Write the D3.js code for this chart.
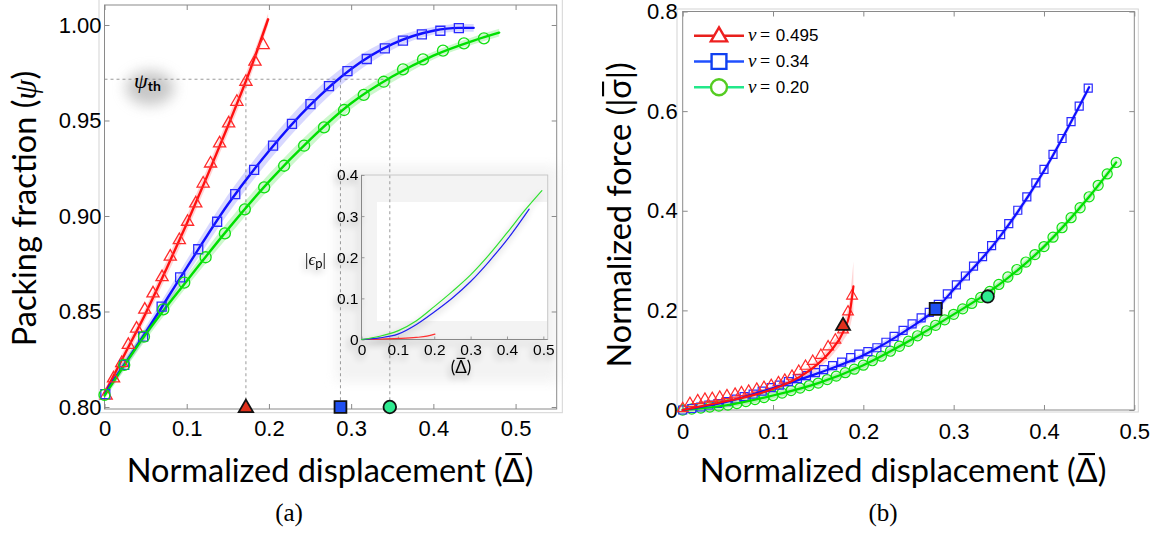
<!DOCTYPE html>
<html><head><meta charset="utf-8">
<script src="https://cdn.jsdelivr.net/npm/d3@7"></script>
<style>body{margin:0;background:#fff}svg{display:block}</style>
</head><body>
<script>
// ---------- panel (a): packing fraction vs normalized displacement ----------
const nuLabels = ['0.495', '0.34', '0.20'];

const redA_d   = [0.002,0.011,0.021,0.029,0.039,0.049,0.059,0.070,0.080,0.091,0.101,0.111,0.120,0.129,0.140,0.151,0.161,0.172,0.183,0.193];
const redA_psi = [0.806,0.815,0.823,0.8325,0.841,0.851,0.8595,0.868,0.8787,0.8874,0.897,0.9066,0.917,0.9275,0.938,0.9485,0.9598,0.9703,0.9808,0.9895];
const blueA_d   = [0.001,0.024,0.047,0.0695,0.092,0.114,0.137,0.159,0.182,0.205,0.228,0.2505,0.273,0.2955,0.319,0.341,0.363,0.386,0.4085,0.431];
const blueA_psi = [0.8067,0.822,0.8368,0.8525,0.8679,0.8826,0.897,0.9114,0.9241,0.9368,0.9482,0.9586,0.968,0.9759,0.9822,0.9878,0.9918,0.9951,0.997,0.9984];
const greenA_d   = [0,0.024,0.048,0.0715,0.097,0.123,0.1464,0.1707,0.1942,0.2185,0.2428,0.267,0.2914,0.3153,0.3396,0.3631,0.3874,0.4117,0.4372,0.4615];
const greenA_psi = [0.8063,0.822,0.8368,0.8511,0.8651,0.8784,0.8909,0.9035,0.915,0.9263,0.9368,0.9464,0.9555,0.9634,0.9703,0.9768,0.982,0.9866,0.9904,0.993];

// fitted curves and their band half-widths
const redFitA_d   = [0,0.025,0.05,0.075,0.1,0.125,0.15,0.175,0.199];
const redFitA_psi = [0.807,0.828,0.849,0.872,0.896,0.921,0.947,0.974,1.003];
const redFitA_w   = [0.002,0.003,0.003,0.004,0.004,0.004,0.004,0.004,0.003];
const blueFitA_d   = [0,0.05,0.1,0.15,0.2,0.25,0.3,0.35,0.4,0.43,0.449];
const blueFitA_psi = [0.807,0.839,0.873,0.906,0.934,0.958,0.977,0.990,0.997,0.9985,0.9985];
const blueFitA_w   = [0.002,0.003,0.004,0.005,0.005,0.005,0.004,0.003,0.002,0.002,0.002];
const greenFitA_d   = [0,0.05,0.1,0.15,0.2,0.25,0.3,0.35,0.4,0.45,0.48];
const greenFitA_psi = [0.806,0.838,0.866,0.893,0.918,0.940,0.959,0.973,0.984,0.992,0.996];
const greenFitA_w   = [0.002,0.003,0.003,0.004,0.004,0.004,0.003,0.003,0.002,0.002,0.002];

const psiTh = 0.9716;
const critA_d = [0.172, 0.287, 0.347];

// inset: plastic strain
const epsRed_d = [0,0.05,0.1,0.15,0.18,0.202];
const epsRed   = [0,0.001,0.0025,0.005,0.008,0.013];
const epsBlue_d = [0,0.05,0.1,0.15,0.2,0.25,0.3,0.35,0.4,0.461];
const epsBlue   = [0,0.004,0.013,0.036,0.067,0.101,0.141,0.189,0.242,0.317];
const epsGreen_d = [0,0.05,0.1,0.15,0.2,0.25,0.3,0.35,0.4,0.45,0.496];
const epsGreen   = [0,0.008,0.021,0.045,0.080,0.117,0.157,0.205,0.259,0.315,0.362];

// ---------- panel (b): normalized force vs normalized displacement ----------
const redB_d   = [0,0.008,0.0166,0.0246,0.0327,0.041,0.049,0.058,0.065,0.073,0.082,0.090,0.098,0.106,0.113,0.121,0.1285,0.136,0.144,0.153,0.161,0.169,0.1775,0.183,0.1875];
const redB_sig = [0.003,0.0134,0.019,0.022,0.0235,0.026,0.029,0.032,0.035,0.038,0.042,0.0455,0.0495,0.055,0.060,0.068,0.078,0.088,0.098,0.110,0.127,0.1406,0.161,0.197,0.229];
const blueB_d   = [0.000,0.010,0.020,0.029,0.039,0.049,0.059,0.068,0.078,0.088,0.098,0.107,0.117,0.127,0.137,0.147,0.156,0.166,0.176,0.186,0.195,0.205,0.215,0.225,0.234,0.244,0.254,0.264,0.273,0.283,0.293,0.303,0.313,0.322,0.332,0.342,0.352,0.361,0.371,0.381,0.391,0.400,0.410,0.420,0.430,0.439,0.449];
const blueB_sig = [0.000,0.003,0.006,0.010,0.013,0.017,0.022,0.027,0.032,0.038,0.045,0.050,0.057,0.063,0.069,0.075,0.081,0.089,0.096,0.105,0.112,0.117,0.125,0.136,0.148,0.160,0.173,0.185,0.196,0.212,0.233,0.251,0.269,0.289,0.308,0.330,0.352,0.374,0.401,0.428,0.456,0.483,0.513,0.545,0.579,0.610,0.646];
const greenB_d   = [0.00,0.01,0.02,0.03,0.04,0.05,0.06,0.07,0.08,0.09,0.10,0.11,0.12,0.13,0.14,0.15,0.16,0.17,0.18,0.19,0.20,0.21,0.22,0.23,0.24,0.25,0.26,0.27,0.28,0.29,0.30,0.31,0.32,0.33,0.34,0.35,0.36,0.37,0.38,0.39,0.40,0.41,0.42,0.43,0.44,0.45,0.46,0.47,0.48];
const greenB_sig = [0.000,0.002,0.004,0.006,0.008,0.010,0.013,0.017,0.021,0.025,0.029,0.034,0.039,0.044,0.049,0.054,0.061,0.068,0.075,0.082,0.090,0.099,0.108,0.118,0.128,0.138,0.149,0.159,0.170,0.181,0.192,0.203,0.214,0.226,0.238,0.252,0.267,0.282,0.297,0.312,0.328,0.347,0.366,0.386,0.406,0.428,0.451,0.474,0.497];

const redFitB_d   = [0,0.03,0.06,0.09,0.11,0.13,0.15,0.165,0.178,0.185,0.189];
const redFitB_sig = [0.0,0.011,0.022,0.036,0.049,0.067,0.093,0.121,0.158,0.195,0.248];
const redFitB_w   = [0.002,0.003,0.004,0.005,0.006,0.008,0.010,0.012,0.018,0.030,0.050];
const blueFitB_d   = [0,0.05,0.1,0.15,0.2,0.25,0.28,0.3,0.35,0.4,0.45];
const blueFitB_sig = [0,0.017,0.044,0.074,0.110,0.163,0.202,0.242,0.345,0.480,0.648];
const blueFitB_w   = [0.003,0.004,0.005,0.006,0.006,0.007,0.007,0.007,0.007,0.007,0.007];
const greenFitB_d   = [0,0.05,0.10,0.15,0.20,0.25,0.30,0.34,0.40,0.45,0.48];
const greenFitB_sig = [0,0.010,0.029,0.054,0.090,0.138,0.192,0.238,0.328,0.428,0.497];
const greenFitB_w   = [0.004,0.005,0.006,0.006,0.007,0.007,0.007,0.007,0.007,0.007,0.007];

const critB_d   = [0.1775, 0.280, 0.3377];
const critB_sig = [0.169, 0.203, 0.228];

// ticks
const ticksA_x = [0,0.1,0.2,0.3,0.4,0.5],  ticksA_xLab = ['0','0.1','0.2','0.3','0.4','0.5'];
const ticksA_y = [0.80,0.85,0.90,0.95,1.00], ticksA_yLab = ['0.80','0.85','0.90','0.95','1.00'];
const ticksB_x = [0,0.1,0.2,0.3,0.4,0.5],  ticksB_xLab = ['0','0.1','0.2','0.3','0.4','0.5'];
const ticksB_y = [0,0.2,0.4,0.6,0.8],      ticksB_yLab = ['0','0.2','0.4','0.6','0.8'];
const ticksI_x = [0,0.1,0.2,0.3,0.4,0.5],  ticksI_xLab = ['0','0.1','0.2','0.3','0.4','0.5'];
const ticksI_y = [0,0.1,0.2,0.3,0.4],      ticksI_yLab = ['0','0.1','0.2','0.3','0.4'];

// ---------- drawing ----------
const W = 1156, H = 533;
const SANS = 'Lato, "Open Sans", sans-serif';
const TICKF = '"Liberation Sans", Arial, sans-serif';
const SERIF = '"Liberation Serif", "DejaVu Serif", serif';
const C = {
  red: '#ff1010', blue: '#1010ff', green: '#00e000',
  redBand: 'rgba(255,40,40,0.20)', blueBand: 'rgba(60,60,255,0.20)', greenBand: 'rgba(0,220,0,0.20)'
};

const svg = d3.select('body').append('svg').attr('width', W).attr('height', H);
const defs = svg.append('defs');
const glow = defs.append('filter').attr('id', 'glow')
  .attr('x', '-60%').attr('y', '-60%').attr('width', '220%').attr('height', '220%');
glow.append('feGaussianBlur').attr('in', 'SourceAlpha').attr('stdDeviation', 3.5).attr('result', 'b');
glow.append('feOffset').attr('in', 'b').attr('dx', -2).attr('dy', 4).attr('result', 'o');
glow.append('feComponentTransfer').attr('in', 'o').attr('result', 's')
  .append('feFuncA').attr('type', 'linear').attr('slope', 0.32);
const gm = glow.append('feMerge');
gm.append('feMergeNode').attr('in', 's');
gm.append('feMergeNode').attr('in', 'SourceGraphic');
defs.append('filter').attr('id', 'soft').attr('x', '-20%').attr('y', '-20%').attr('width', '140%').attr('height', '140%')
  .append('feGaussianBlur').attr('stdDeviation', 6);
defs.append('filter').attr('id', 'blob').attr('x', '-50%').attr('y', '-50%').attr('width', '200%').attr('height', '200%')
  .append('feGaussianBlur').attr('stdDeviation', 7);

// scales
const xA = d3.scaleLinear([0, 0.55], [104.5, 556.7]);
const yA = d3.scaleLinear([0.79895, 1.01047], [409, 5]);
const xB = d3.scaleLinear([0, 0.5], [682.7, 1134.3]);
const yB = d3.scaleLinear([0, 0.8], [410, 11.5]);
const xI = d3.scaleLinear([0, 0.512], [361.5, 547.7]);
const yI = d3.scaleLinear([0, 0.4], [339.5, 175]);

const zip = (a, b) => a.map((d, i) => [d, b[i]]);

function styleAxis(s, fs, stroke, keepLabels) {
  s.attr('font-size', null).attr('font-family', null);
  s.select('.domain').remove();
  s.selectAll('line').attr('stroke', stroke);
  if (keepLabels) s.selectAll('text')
      .attr('fill', '#000')
      .style('font-size', fs + 'px')
      .style('font-family', TICKF);
  else s.selectAll('text').remove();
}

function frame(g, x, y, o) {
  const [x0, x1] = x.range(), [y0, y1] = y.range();
  if (o.outer) g.append('rect').attr('x', o.outer[0]).attr('y', o.outer[1])
      .attr('width', o.outer[2] - o.outer[0]).attr('height', o.outer[3] - o.outer[1])
      .attr('fill', 'none').attr('stroke', '#d4d4d4').attr('stroke-width', 1);
  g.append('rect').attr('x', x0).attr('y', y1).attr('width', x1 - x0).attr('height', y0 - y1)
    .attr('fill', 'none').attr('stroke', o.stroke).attr('stroke-width', 1);
  g.append('g').attr('transform', `translate(0,${y0})`)
    .call(d3.axisBottom(x).tickValues(o.xt).tickFormat((d, i) => o.xl[i]).tickSize(-o.tick).tickPadding(o.xpad))
    .call(s => styleAxis(s, o.fs, o.stroke, true));
  g.append('g').attr('transform', `translate(${x0},0)`)
    .call(d3.axisLeft(y).tickValues(o.yt).tickFormat((d, i) => o.yl[i]).tickSize(-o.tick).tickPadding(o.ypad))
    .call(s => styleAxis(s, o.fs, o.stroke, true));
  if (o.mirror) {
    g.append('g').attr('transform', `translate(0,${y1})`)
      .call(d3.axisTop(x).tickValues(o.xt).tickSize(-o.tick)).call(s => styleAxis(s, o.fs, o.stroke, false));
    g.append('g').attr('transform', `translate(${x1},0)`)
      .call(d3.axisRight(y).tickValues(o.yt).tickSize(-o.tick)).call(s => styleAxis(s, o.fs, o.stroke, false));
  }
}

function band(g, xs, ys, ws, x, y, fill) {
  g.append('path').datum(xs.map((d, i) => [d, ys[i], ws[i]]))
    .attr('d', d3.area().x(d => x(d[0])).y0(d => y(d[1] - d[2])).y1(d => y(d[1] + d[2])).curve(d3.curveMonotoneX))
    .attr('fill', fill).attr('stroke', 'none');
}
function curve(g, xs, ys, x, y, color, w) {
  g.append('path').datum(zip(xs, ys))
    .attr('d', d3.line().x(d => x(d[0])).y(d => y(d[1])).curve(d3.curveMonotoneX))
    .attr('fill', 'none').attr('stroke', color).attr('stroke-width', w).attr('stroke-linecap', 'round');
}
function marks(g, xs, ys, x, y, type, size, stroke, fill, sw) {
  const sym = d3.symbol().type(type).size(size);
  g.append('g').selectAll('path').data(zip(xs, ys)).join('path')
    .attr('transform', d => `translate(${x(d[0])},${y(d[1])})`)
    .attr('d', sym).attr('fill', fill).attr('stroke', stroke).attr('stroke-width', sw);
}
// puts a bar over one character of a text element (inside its own group)
function overbar(grp, txt, idx, fs) {
  const n = txt.node();
  const s = n.getStartPositionOfChar(idx), e = n.getEndPositionOfChar(idx);
  const w = e.x - s.x;
  grp.append('line').attr('x1', s.x + w * 0.12).attr('x2', e.x - w * 0.12)
    .attr('y1', s.y - fs * 0.86).attr('y2', s.y - fs * 0.86)
    .attr('stroke', '#000').attr('stroke-width', fs * 0.065);
}

// ===== panel (a) =====
const gA = svg.append('g');

// inset backdrop (drawn first so the main frame stays visible)
const gIbg = gA.append('g');
gIbg.append('rect').attr('x', 336).attr('y', 166).attr('width', 222).attr('height', 216)
  .attr('fill', '#eeeeee').attr('opacity', 0.7).attr('filter', 'url(#soft)');
gIbg.append('rect').attr('x', 377).attr('y', 202).attr('width', 170).attr('height', 119).attr('fill', '#fff');

// threshold guides
const gDash = gA.append('g').attr('stroke', '#9a9a9a').attr('stroke-width', 1).attr('stroke-dasharray', '3,3').attr('fill', 'none');
gDash.append('line').attr('x1', xA(0)).attr('x2', xA(critA_d[2])).attr('y1', yA(psiTh)).attr('y2', yA(psiTh));
critA_d.forEach(d => gDash.append('line').attr('x1', xA(d)).attr('x2', xA(d)).attr('y1', yA(psiTh)).attr('y2', yA(0.80)));

frame(gA, xA, yA, {
  xt: ticksA_x, xl: ticksA_xLab, yt: ticksA_y, yl: ticksA_yLab, tick: 5, xpad: 11, ypad: 3,
  fs: 22, stroke: '#8a8a8a', mirror: true, outer: [99, -1, 562.3, 412.7]
});

// ψ_th label with its soft shadow
gA.append('ellipse').attr('cx', 150).attr('cy', 88).attr('rx', 24).attr('ry', 17)
  .attr('fill', '#9a9a9a').attr('opacity', 0.55).attr('filter', 'url(#blob)');
const thT = gA.append('text').attr('x', 134).attr('y', 88);
thT.append('tspan').attr('font-family', SERIF).attr('font-style', 'italic').attr('font-size', 22).text('ψ');
thT.append('tspan').attr('font-family', SANS).attr('font-weight', 'bold').attr('font-size', 14).attr('dy', 3).text('th');

band(gA, redFitA_d, redFitA_psi, redFitA_w, xA, yA, C.redBand);
band(gA, blueFitA_d, blueFitA_psi, blueFitA_w, xA, yA, C.blueBand);
band(gA, greenFitA_d, greenFitA_psi, greenFitA_w, xA, yA, C.greenBand);
curve(gA, redFitA_d, redFitA_psi, xA, yA, C.red, 2.4);
curve(gA, blueFitA_d, blueFitA_psi, xA, yA, C.blue, 2.4);
curve(gA, greenFitA_d, greenFitA_psi, xA, yA, C.green, 2.4);
marks(gA, redA_d, redA_psi, xA, yA, d3.symbolTriangle, 64, '#ff2a2a', 'none', 1.3);
marks(gA, blueA_d, blueA_psi, xA, yA, d3.symbolSquare, 81, '#2a2aff', 'none', 1.3);
marks(gA, greenA_d, greenA_psi, xA, yA, d3.symbolCircle, 95, '#10e010', 'none', 1.3);

// critical points on the axis
const critFill = ['#e0301c', '#1f4ff0', '#2eea90'];
const critType = [d3.symbolTriangle, d3.symbolSquare, d3.symbolCircle];
const critSizeA = [90, 140, 125];
critA_d.forEach((d, i) => gA.append('path')
  .attr('transform', `translate(${xA(d)},${yA(0.80) + (i === 0 ? 1 : 0)})`)
  .attr('d', d3.symbol().type(critType[i]).size(critSizeA[i]))
  .attr('fill', critFill[i]).attr('stroke', '#111').attr('stroke-width', 1.8));

// inset
const gI = gA.append('g');
gI.append('rect').attr('x', xI(0)).attr('y', yI(0.4)).attr('width', xI(0.512) - xI(0)).attr('height', yI(0) - yI(0.4))
  .attr('fill', 'none').attr('stroke', '#c8c8c8');
const gIc = gI.append('g').attr('filter', 'url(#glow)');
const iax = gIc.append('g');
iax.append('g').attr('transform', `translate(0,${yI(0)})`)
  .call(d3.axisBottom(xI).tickValues(ticksI_x).tickFormat((d, i) => ticksI_xLab[i]).tickSize(-3).tickPadding(4))
  .call(s => styleAxis(s, 15.5, '#999', true));
iax.append('g').attr('transform', `translate(${xI(0)},0)`)
  .call(d3.axisLeft(yI).tickValues(ticksI_y).tickFormat((d, i) => ticksI_yLab[i]).tickSize(-3).tickPadding(3))
  .call(s => styleAxis(s, 15.5, '#999', true));
iax.append('line').attr('x1', xI(0)).attr('x2', xI(0)).attr('y1', yI(0)).attr('y2', yI(0.4)).attr('stroke', '#888');
iax.append('line').attr('x1', xI(0)).attr('x2', xI(0.512)).attr('y1', yI(0)).attr('y2', yI(0)).attr('stroke', '#888');
curve(gIc, epsRed_d, epsRed, xI, yI, '#ff3030', 1.2);
curve(gIc, epsBlue_d, epsBlue, xI, yI, '#2020ee', 1.2);
curve(gIc, epsGreen_d, epsGreen, xI, yI, '#30e030', 1.2);
const epsT = gIc.append('text').attr('x', 305).attr('y', 265).attr('font-family', SERIF).attr('font-size', 17);
epsT.append('tspan').text('|');
epsT.append('tspan').attr('font-style', 'italic').text('ϵ');
epsT.append('tspan').attr('font-family', SANS).attr('font-size', 13).attr('dy', 3).text('p');
epsT.append('tspan').attr('dy', -3).text('|');
const gDi = gIc.append('g').attr('transform', 'translate(461,373)');
const dI = gDi.append('text').attr('text-anchor', 'middle').attr('font-family', SANS).attr('font-size', 17).text('(Δ)');
overbar(gDi, dI, 1, 17);

// titles (a)
const TFS = 32.5;
const gTxA = svg.append('g').attr('transform', 'translate(330,482)');
const tXA = gTxA.append('text').attr('text-anchor', 'middle').attr('font-family', SANS).attr('font-size', TFS)
  .text('Normalized displacement (Δ)');
overbar(gTxA, tXA, 25, TFS);
const tYA = svg.append('text').attr('transform', 'translate(36,208.5) rotate(-90)').attr('text-anchor', 'middle')
  .attr('font-family', SANS).attr('font-size', TFS);
tYA.append('tspan').text('Packing fraction (');
tYA.append('tspan').attr('font-family', SERIF).attr('font-style', 'italic').text('ψ');
tYA.append('tspan').text(')');
svg.append('text').attr('x', 289).attr('y', 521).attr('text-anchor', 'middle')
  .attr('font-family', SERIF).attr('font-size', 25).text('(a)');

// ===== panel (b) =====
const gB = svg.append('g');
frame(gB, xB, yB, {
  xt: ticksB_x, xl: ticksB_xLab, yt: ticksB_y, yl: ticksB_yLab, tick: 5, xpad: 13, ypad: 5,
  fs: 22, stroke: '#8a8a8a', mirror: true, outer: [677, 9, 1138.3, 412]
});
band(gB, redFitB_d, redFitB_sig, redFitB_w, xB, yB, C.redBand);
band(gB, blueFitB_d, blueFitB_sig, blueFitB_w, xB, yB, C.blueBand);
band(gB, greenFitB_d, greenFitB_sig, greenFitB_w, xB, yB, C.greenBand);
marks(gB, greenB_d, greenB_sig, xB, yB, d3.symbolCircle, 80, '#10e010', 'rgba(0,220,0,0.12)', 1.2);
marks(gB, blueB_d, blueB_sig, xB, yB, d3.symbolSquare, 64, '#2a2aff', 'none', 1.2);
marks(gB, redB_d, redB_sig, xB, yB, d3.symbolTriangle, 50, '#ff2a2a', 'none', 1.2);
curve(gB, greenFitB_d, greenFitB_sig, xB, yB, C.green, 2.2);
curve(gB, blueFitB_d, blueFitB_sig, xB, yB, C.blue, 2.2);
curve(gB, redFitB_d, redFitB_sig, xB, yB, C.red, 2.2);
const critSizeB = [85, 140, 120];
critB_d.forEach((d, i) => gB.append('path')
  .attr('transform', `translate(${xB(d)},${yB(critB_sig[i])})`)
  .attr('d', d3.symbol().type(critType[i]).size(critSizeB[i]))
  .attr('fill', critFill[i]).attr('stroke', '#111').attr('stroke-width', 1.8));

// legend
const legLine = ['#e8201c', '#2050ff', '#22e88a'];
const legMark = ['#ee2020', '#1040f0', '#55cc22'];
const legSize = [115, 220, 200];
nuLabels.forEach((v, i) => {
  const yy = 35.7 + i * 25.8;
  const g = gB.append('g');
  g.append('line').attr('x1', 694).attr('x2', 744).attr('y1', yy).attr('y2', yy)
    .attr('stroke', legLine[i]).attr('stroke-width', 2.6);
  g.append('path').attr('transform', `translate(719,${yy + (i === 0 ? 1 : 0)})`)
    .attr('d', d3.symbol().type(critType[i]).size(legSize[i]))
    .attr('fill', '#fff').attr('stroke', legMark[i]).attr('stroke-width', 2.4);
  const t = g.append('text').attr('x', 748).attr('y', yy + 5.5).attr('font-size', 17);
  t.append('tspan').attr('font-family', SERIF).attr('font-style', 'italic').attr('font-size', 19).text('ν');
  t.append('tspan').attr('font-family', SERIF).attr('font-size', 18).text('\u2009=\u2009');
  t.append('tspan').attr('font-family', TICKF).attr('dx', 2).text(v);
});

// titles (b)
const gTxB = svg.append('g').attr('transform', 'translate(903,482)');
const tXB = gTxB.append('text').attr('text-anchor', 'middle').attr('font-family', SANS).attr('font-size', TFS)
  .text('Normalized displacement (Δ)');
overbar(gTxB, tXB, 25, TFS);
const gTyB = svg.append('g').attr('transform', 'translate(631,215) rotate(-90)');
const tYB = gTyB.append('text').attr('text-anchor', 'middle').attr('font-family', SANS).attr('font-size', TFS)
  .text('Normalized force (|σ|)');
overbar(gTyB, tYB, 19, TFS);
svg.append('text').attr('x', 883).attr('y', 521).attr('text-anchor', 'middle')
  .attr('font-family', SERIF).attr('font-size', 25).text('(b)');
</script>
</body></html>
